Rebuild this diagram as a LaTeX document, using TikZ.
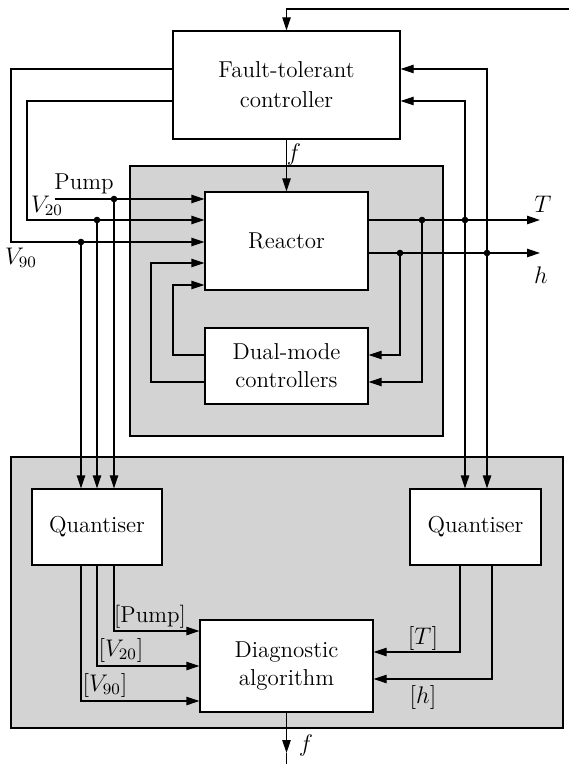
\documentclass[tikz,border=0pt]{standalone}
\usetikzlibrary{arrows.meta}
\definecolor{bggray}{HTML}{D3D3D3}
\begin{document}
\begin{tikzpicture}[x=0.5pt,y=-0.5pt,
  every node/.style={font=\fontsize{11.5}{14}\selectfont},
  box/.style={draw, fill=white, line width=0.55pt, align=center, inner sep=0pt},
  bgbox/.style={draw, fill=bggray, line width=0.55pt, inner sep=0pt},
  arr/.style={-{Triangle[length=6.5pt,width=4.2pt]}},
  dot/.style={circle, fill, inner sep=0pt, minimum size=3.3pt},
  lbl/.style={inner sep=0pt},
  line width=0.55pt]
\fill[white] (0,0) rectangle (569,764);
\useasboundingbox (0,0) rectangle (569,764);

% backgrounds
\node[bgbox, minimum width=156.5pt, minimum height=135pt] (rbg) at (286.5,301) {};
\node[bgbox, minimum width=276pt, minimum height=135.5pt] (dbg) at (287,592.5) {};

% boxes
\node[box, minimum width=113.5pt, minimum height=54pt] (ftc) at (286.5,85) {Fault-tolerant\\[1pt]controller};
\node[box, minimum width=81.5pt, minimum height=49pt] (reactor) at (286.5,241) {Reactor};
\node[box, minimum width=81.5pt, minimum height=38pt] (dual) at (286.5,366) {Dual-mode\\controllers};
\node[box, minimum width=65pt, minimum height=38pt] (q1) at (97,527) {Quantiser};
\node[box, minimum width=65.5pt, minimum height=38pt] (q2) at (475.5,527) {Quantiser};
\node[box, minimum width=86.5pt, minimum height=46pt] (diag) at (286.5,666) {Diagnostic\\algorithm};

% coordinates
\coordinate (topR) at (569,9);
\coordinate (pumpin) at (55,199);
\coordinate (fout) at (286.5,764);
\coordinate (ftip) at (286.5,753);

% dots
\node[dot] (dP) at (114,199) {};
\node[dot] (d20) at (97,220) {};
\node[dot] (d90) at (81,242) {};
\node[dot] (dT1) at (422,220) {};
\node[dot] (dT2) at (465,220) {};
\node[dot] (dh1) at (400,253) {};
\node[dot] (dh2) at (487,253) {};

% top feedback
\draw[arr] (topR) -| (ftc.north);
% f into reactor
\draw[arr] (ftc.south) -- (reactor.north);
\node[lbl] (flab) at (294,155) {$f$};

% inputs to reactor
\draw[arr] (ftc.west |- 0,69) -- (11,69) -- (11,242) -- (reactor.west |- 0,242);
\draw[arr] (ftc.west |- 0,101) -- (27,101) -- (27,220) -- (reactor.west |- 0,220);
\draw[arr] (pumpin) -- (reactor.west |- 0,199);
\node[lbl] (pumplab) at (84,184) {Pump};
\node[lbl] (v20lab) at (47,206) {$V_{20}$};
\node[lbl] (v90lab) at (21,258) {$V_{90}$};

% to left quantiser
\draw[arr] (dP.center) -- (dP.center |- q1.north);
\draw[arr] (d20.center) -- (d20.center |- q1.north);
\draw[arr] (d90.center) -- (d90.center |- q1.north);

% dual-mode feedback to reactor
\draw[arr] (dual.west |- 0,355) -- (173,355) -- (173,285) -- (reactor.west |- 0,285);
\draw[arr] (dual.west |- 0,382) -- (151,382) -- (151,263) -- (reactor.west |- 0,263);

% outputs
\draw[arr] (reactor.east |- 0,220) -- (540,220);
\draw[arr] (reactor.east |- 0,253) -- (540,253);
\node[lbl] (Tlab) at (543,204) {$T$};
\node[lbl] (hlab) at (541,275) {$h$};

% to dual-mode
\draw[arr] (dT1.center) |- (dual.east |- 0,382);
\draw[arr] (dh1.center) |- (dual.east |- 0,355);

% to ftc and right quantiser
\draw[arr] (dT2.center) |- (ftc.east |- 0,101);
\draw[arr] (dh2.center) |- (ftc.east |- 0,69);
\draw[arr] (dT2.center) -- (dT2.center |- q2.north);
\draw[arr] (dh2.center) -- (dh2.center |- q2.north);

% quantiser to diagnostic
\draw[arr] (q1.south -| 114,0) |- (diag.west |- 0,631);
\draw[arr] (q1.south -| 97,0) |- (diag.west |- 0,666);
\draw[arr] (q1.south -| 81,0) |- (diag.west |- 0,701);
\node[lbl] (lp) at (150,617) {[Pump]};
\node[lbl] (l20) at (121,650) {$[V_{20}]$};
\node[lbl] (l90) at (105,685) {$[V_{90}]$};

\draw[arr] (q2.south -| 460,0) |- (diag.east |- 0,652);
\draw[arr] (q2.south -| 492,0) |- (diag.east |- 0,679);
\node[lbl] (lT) at (423,638) {$[T]$};
\node[lbl] (lh) at (423,697) {$[h]$};

% output f
\draw[arr] (diag.south) -- (ftip);
\draw (ftip) -- (fout);
\node[lbl] (flab2) at (306,745) {$f$};
\end{tikzpicture}
\end{document}
